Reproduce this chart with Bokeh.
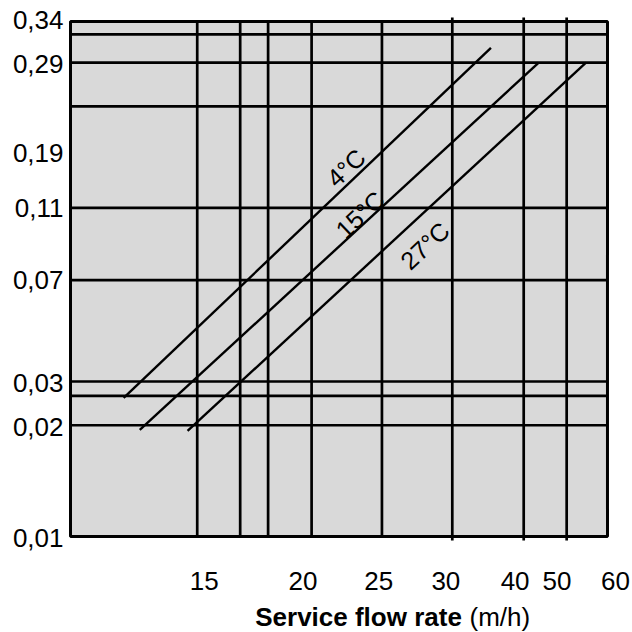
from bokeh.plotting import figure
from bokeh.models import Range1d, FixedTicker, Label
from bokeh.layouts import column
from bokeh.embed import file_html
from bokeh.resources import INLINE

# Chart positions are in the chart's own hand-drawn grid units (0-100 on each side).
# X tick labels (service flow rate, m/h) and where they sit on the grid
x_tick_labels = ["15", "20", "25", "30", "40", "50", "60"]
x_tick_pos = [24.9, 43.3, 57.4, 69.9, 82.8, 90.6, 101.5]

# Y tick labels and where they sit
y_tick_labels = ["0,34", "0,29", "0,19", "0,11", "0,07", "0,03", "0,02", "0,01"]
y_tick_pos = [100.2, 91.8, 74.5, 63.8, 49.9, 29.9, 21.3, -0.35]

# Grid lines
vline_pos = [23.6, 31.6, 36.8, 44.9, 58.0, 71.1, 84.4, 92.4]
vline_ticked = [False, False, False, False, False, True, True, True]
hline_pos = [97.5, 92.0, 83.5, 63.8, 49.8, 30.1, 27.3, 21.6]

# Temperature curves (start / end points)
temps = ["4°C", "15°C", "27°C"]
temp_x0 = [9.9, 12.9, 21.8]
temp_y0 = [26.9, 20.7, 20.5]
temp_x1 = [78.3, 87.2, 96.0]
temp_y1 = [94.9, 92.0, 92.0]
# Temperature label anchors
temp_lx = [51.3, 53.9, 66.0]
temp_ly = [71.6, 62.5, 56.5]

x_title_bold = "Service flow rate"
x_title_unit = "(m/h)"
x_title_bold_pos = 34.4
x_title_unit_pos = 74.3

FONT = "Liberation Sans"

xr = Range1d(-0.931, 104.66)

p = figure(
    title=None,
    width=632, height=555,
    frame_width=567, frame_height=525,
    min_border_left=65, min_border_right=0, min_border_top=16, min_border_bottom=14,
    x_range=xr, y_range=Range1d(-0.97, 100.97),
    x_axis_location=None,
    output_backend="svg", toolbar_location=None,
)
p.outline_line_color = None
p.background_fill_color = "white"
p.xgrid.visible = False
p.ygrid.visible = False

# panel
p.quad(left=[0], right=[100], bottom=[0], top=[100],
       fill_color="#d9d9d9", line_color=None)

# grid lines
ext = 0.8
p.segment(x0=vline_pos, x1=vline_pos,
          y0=[-ext if t else 0 for t in vline_ticked],
          y1=[100 + ext if t else 100 for t in vline_ticked],
          line_color="black", line_width=2.7)
p.segment(x0=[0] * len(hline_pos), x1=[100] * len(hline_pos),
          y0=hline_pos, y1=hline_pos, line_color="black", line_width=2.7)

# border
p.quad(left=[0], right=[100], bottom=[0], top=[100],
       fill_color=None, line_color="black", line_width=3)

# temperature lines
p.segment(x0=temp_x0, y0=temp_y0, x1=temp_x1, y1=temp_y1,
          line_color="black", line_width=2.4)

for tx, lx, ly in zip(temps, temp_lx, temp_ly):
    p.add_layout(Label(x=lx, y=ly, text=tx, angle=43, angle_units="deg",
                       text_align="center", text_baseline="middle",
                       text_font=FONT, text_font_size="25px", text_color="black"))

yax = p.yaxis[0]
yax.ticker = FixedTicker(ticks=y_tick_pos)
yax.major_label_overrides = {v: s for v, s in zip(y_tick_pos, y_tick_labels)}
yax.major_label_standoff = 2

# lower strip: x tick labels (axis on top of the strip) and the axis title
t = figure(
    title=None,
    width=632, height=77, frame_width=567, frame_height=36,
    min_border_left=65, min_border_right=0, min_border_top=41, min_border_bottom=0,
    x_range=xr, y_range=Range1d(0, 36),
    x_axis_location="above", y_axis_location=None,
    output_backend="svg", toolbar_location=None,
)
t.outline_line_color = None
t.xgrid.visible = False
t.ygrid.visible = False
xax = t.xaxis[0]
xax.ticker = FixedTicker(ticks=x_tick_pos)
xax.major_label_overrides = {v: s for v, s in zip(x_tick_pos, x_tick_labels)}
xax.major_label_standoff = 7

for ax in (xax, yax):
    ax.axis_line_color = None
    ax.major_tick_line_color = None
    ax.minor_tick_line_color = None
    ax.major_tick_out = 0
    ax.major_tick_in = 0
    ax.major_label_text_font = FONT
    ax.major_label_text_font_size = "26px"
    ax.major_label_text_color = "black"

t.add_layout(Label(x=x_title_bold_pos, y=16, text=x_title_bold, text_align="left",
                   text_baseline="alphabetic", text_font=FONT, text_font_size="26px",
                   text_font_style="bold", text_color="black"))
t.add_layout(Label(x=x_title_unit_pos, y=16, text=x_title_unit, text_align="left",
                   text_baseline="alphabetic", text_font=FONT, text_font_size="26px",
                   text_color="black"))

layout = column(p, t, spacing=0)
open("out.html", "w").write(file_html(layout, INLINE))
